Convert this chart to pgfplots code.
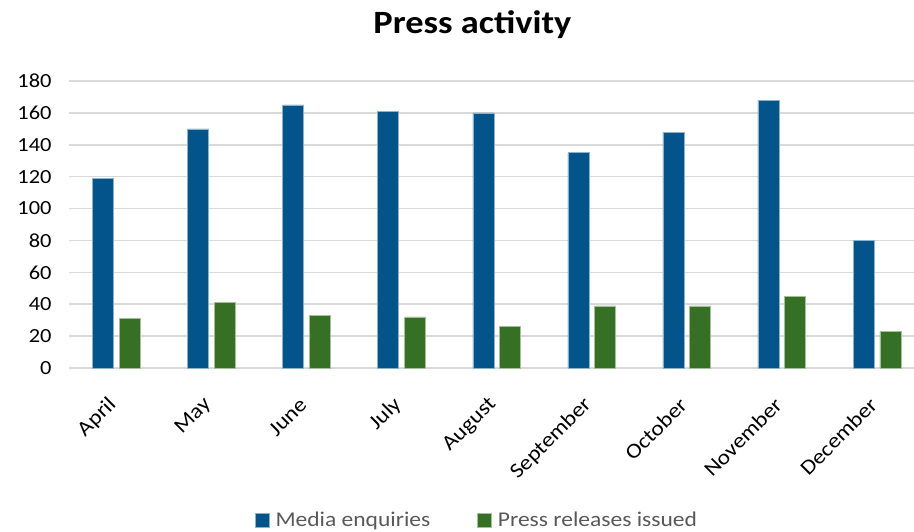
\documentclass[border=0pt]{standalone}
\usepackage{fontspec}
\setmainfont[FakeStretch=1.12]{Carlito}
\usepackage{pgfplots}
\pgfplotsset{compat=1.18}

\definecolor{mediablue}{RGB}{2,84,139}
\definecolor{pressgreen}{RGB}{54,112,36}
\definecolor{gridgray}{RGB}{217,217,217}
\definecolor{legendgray}{RGB}{89,89,89}

\begin{document}
\begin{tikzpicture}
\path[use as bounding box] (0,0) rectangle (914pt,531pt);
\node[font=\fontsize{32.5}{38}\selectfont\bfseries, anchor=base] at (472.5pt,497pt) {Press activity};
\begin{axis}[
  at={(69pt,163pt)}, anchor=south west,
  scale only axis, width=845pt, height=287pt,
  xmin=-0.5, xmax=8.39, ymin=0, ymax=180,
  ytick={0,20,...,180},
  xtick={0,...,8},
  xticklabels={April,May,June,July,August,September,October,November,December},
  axis line style={draw=none},
  major tick length=0pt,
  ymajorgrids,
  grid style={draw=gridgray, line width=1.6pt},
  /pgf/number format/assume math mode=true,
  yticklabel style={font=\fontsize{20}{24}\selectfont, anchor=east, xshift=-14pt},
  xticklabel style={font=\fontsize{21}{25}\selectfont, xshift=-1pt, yshift=-31pt, rotate=45, anchor=east},
  ybar, bar width=21pt,
  legend columns=2,
  legend style={at={(0.4828,-0.528)}, anchor=center, draw=none,
    font=\fontsize{21}{25}\selectfont, text=legendgray,
    /tikz/every even column/.append style={column sep=45pt}},
  legend image code/.code={\fill[#1] (0pt,-8pt) rectangle (14pt,6pt); \path (18pt,0pt);},
]
\addplot[fill=mediablue, draw=mediablue!45!white, line width=0.6pt, bar shift=-13.4pt]
  coordinates {(0,119) (1,150) (2,165) (3,161) (4,160) (5,135) (6,148) (7,168) (8,80)};
\addplot[fill=pressgreen, draw=pressgreen!45!white, line width=0.6pt, bar shift=13.4pt]
  coordinates {(0,31) (1,41) (2,33) (3,32) (4,26) (5,39) (6,39) (7,45) (8,23)};
\legend{Media enquiries, Press releases issued}
\end{axis}
\end{tikzpicture}
\end{document}
